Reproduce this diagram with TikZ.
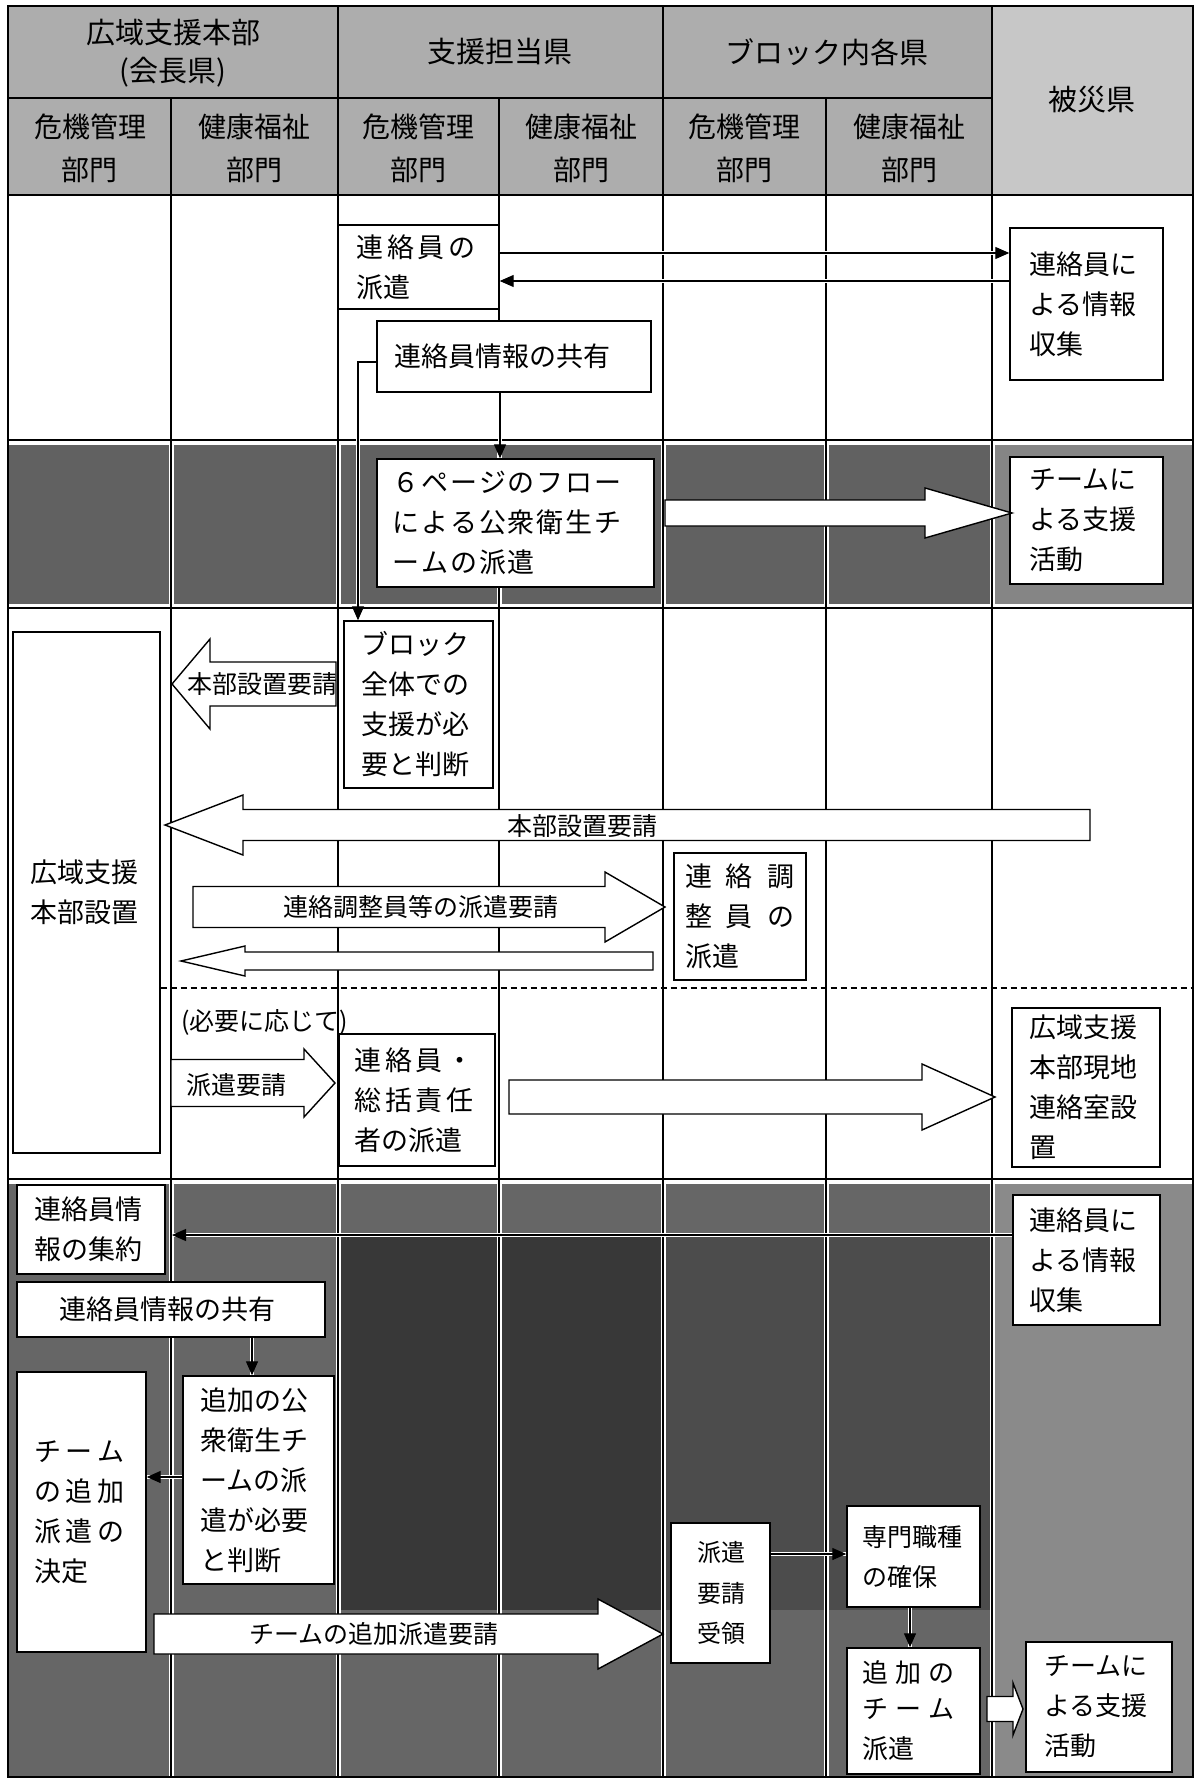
\documentclass[tikz,border=0pt]{standalone}
\usepackage{fontspec}
\setmainfont{Noto Sans CJK JP}
\usetikzlibrary{arrows.meta}
\newcommand{\lsp}[1]{\hspace{#1pt}}
\newcommand{\mybox}[7]{%
  \pgfmathsetmacro{\myBW}{#4-#2}%
  \pgfmathsetmacro{\myBH}{#5-#3}%
  \pgfmathsetmacro{\myTW}{#4-#2-2*#6}%
  \pgfmathsetmacro{\myCX}{(#2+#4)/2}%
  \pgfmathsetmacro{\myCY}{(#3+#5)/2}%
  \node[box, minimum width=\myBW pt, minimum height=\myBH pt, text width=\myTW pt] (#1) at (\myCX,\myCY) {#7};}
\newcommand{\barrow}[6]{\draw[blk] (#1,{#4-#5}) -- (#2,{#4-#5}) -- (#2,{#4-#6}) -- (#3,#4) -- (#2,{#4+#6}) -- (#2,{#4+#5}) -- (#1,{#4+#5}) -- cycle;}
\begin{document}
\begin{tikzpicture}[x=1pt,y=-1pt,
  grid/.style={line width=1.2pt},
  box/.style={draw,line width=1.4pt,fill=white,inner sep=0pt,align=left,font=\fontsize{27}{40}\selectfont},
  blk/.style={draw,line width=1.4pt,fill=white,line join=miter},
  arr/.style={line width=1.2pt,-{Triangle[length=14pt,width=12pt]},preaction={draw=white,line width=4pt,-}},
  lab/.style={font=\fontsize{25}{30}\selectfont,inner sep=0pt},
  hda/.style={font=\fontsize{29}{38}\selectfont,inner sep=0pt,align=center},
  hdb/.style={font=\fontsize{28}{43}\selectfont,inner sep=0pt,align=center}]
\useasboundingbox (0,0) rectangle (1195,1779);
\fill[white] (0,0) rectangle (1195,1779);
% shading
\fill[black!32] (8,6) rectangle (992,195);
\fill[black!22] (992,6) rectangle (1193,195);
\fill[black!62] (8,440) rectangle (992,608);
\fill[black!48] (992,440) rectangle (1193,608);
\fill[black!60] (8,1179) rectangle (992,1777);
\fill[black!78] (338,1237) rectangle (663,1610);
\fill[black!70] (663,1237) rectangle (992,1610);
\fill[black!46] (992,1179) rectangle (1193,1777);
% white halos in dark bands
\foreach \x in {171,338,499,663,826,992} {\draw[white,line width=5pt] (\x,440)--(\x,608) (\x,1179)--(\x,1777);}
\draw[white,line width=5pt] (8,442)--(1193,442) (8,606)--(1193,606) (8,1181)--(1193,1181);
% grid
\draw[grid] (8,6) rectangle (1193,1777);
\draw[grid] (8,98) -- (992,98);
\draw[line width=2.6pt] (8,195) -- (1193,195);
\foreach \x in {171,499,826} {\draw[grid] (\x,98) -- (\x,1777);}
\foreach \x in {338,663,992} {\draw[grid] (\x,6) -- (\x,1777);}
\foreach \y in {440,608,1179} {\draw[grid] (8,\y) -- (1193,\y);}
% header texts
\node[hda] (h1) at (173,53) {広域支援本部\\(会長県)};
\node[hda] (h2) at (500,52) {支援担当県};
\node[hda] (h3) at (827,52) {ブロック内各県};
\node[hda] (h4) at (1092,100) {被災県};
\node[hdb] (s1) at (90,148) {危機管理\\部門};
\node[hdb] (s2) at (254,148) {健康福祉\\部門};
\node[hdb] (s3) at (418,148) {危機管理\\部門};
\node[hdb] (s4) at (581,148) {健康福祉\\部門};
\node[hdb] (s5) at (744,148) {危機管理\\部門};
\node[hdb] (s6) at (909,148) {健康福祉\\部門};
% boxes
\mybox{b1}{338}{225}{499}{309}{18}{連\lsp{4}絡\lsp{4}員\lsp{4}の\\派遣}
\mybox{b2}{1010}{228}{1163}{380}{19}{連絡員に\\よる情報\\収集}
\mybox{b3}{377}{321}{651}{392}{17}{連絡員情報の共有}
\mybox{b4}{377}{459}{654}{587}{15}{６\lsp{2}ペ\lsp{2}ー\lsp{2}ジ\lsp{2}の\lsp{2}フ\lsp{2}ロ\lsp{2}ー\\に\lsp{2}よ\lsp{2}る\lsp{2}公\lsp{2}衆\lsp{2}衛\lsp{2}生\lsp{2}チ\\ー\lsp{2}ム\lsp{2}の\lsp{2}派\lsp{2}遣}
\mybox{b5}{1010}{457}{1163}{584}{19}{チームに\\よる支援\\活動}
\mybox{b6}{344}{621}{493}{788}{17}{ブロック\\全体での\\支援が必\\要と判断}
\mybox{b7}{13}{632}{160}{1153}{17}{広域支援\\本部設置\\[12pt]}
\mybox{b8}{674}{853}{806}{980}{11}{連\lsp{14}絡\lsp{14}調\\整\lsp{14}員\lsp{14}の\\派遣}
\mybox{b9}{1012}{1008}{1160}{1167}{17}{広域支援\\本部現地\\連絡室設\\置}
\mybox{b10}{339}{1034}{495}{1166}{15}{連\lsp{4}絡\lsp{4}員\lsp{4}・\\総\lsp{4}括\lsp{4}責\lsp{4}任\\者の派遣}
\mybox{b11}{17}{1185}{165}{1274}{17}{連絡員情\\報の集約}
\mybox{b12}{17}{1282}{325}{1337}{42}{連絡員情報の共有}
\mybox{b13}{17}{1372}{146}{1652}{17}{チ\lsp{5}ー\lsp{5}ム\\の\lsp{5}追\lsp{5}加\\派\lsp{5}遣\lsp{5}の\\決定}
\mybox{b14}{183}{1376}{334}{1584}{17}{追加の公\\衆衛生チ\\ームの派\\遣が必要\\と判断}
\mybox{b15}{671}{1523}{770}{1663}{26}{\fontsize{24}{41}\selectfont 派遣\\要請\\受領}
\mybox{b16}{847}{1506}{980}{1607}{15}{\fontsize{25}{39}\selectfont 専門職種\\の確保}
\mybox{b17}{847}{1648}{980}{1774}{15}{\fontsize{26}{36}\selectfont 追\lsp{7}加\lsp{7}の\\チ\lsp{7}ー\lsp{7}ム\\派遣}
\mybox{b18}{1013}{1195}{1160}{1325}{16}{連絡員に\\よる情報\\収集}
\mybox{b19}{1026}{1642}{1172}{1772}{18}{\fontsize{26}{40}\selectfont チームに\\よる支援\\活動}
% dashed separator
\draw[line width=1.2pt,dash pattern=on 6pt off 4pt] (b7.east |- 0,988) -- (1193,988);
% block arrows
\barrow{665}{925}{1012}{513}{13}{25}
\barrow{336}{210}{172}{684}{22}{45}
\barrow{1090}{243}{165}{825}{15.5}{30}
\barrow{193}{605}{665}{907}{20.5}{35}
\barrow{653}{245}{181}{961}{9}{15}
\barrow{171}{304}{335}{1083}{23.5}{34}
\barrow{509}{922}{995}{1097}{17}{33}
\barrow{154}{598}{663}{1634}{20}{35}
\barrow{987}{1013}{1023}{1709}{12.5}{26}
% arrow labels
\node[lab] (l1) at (262,684) {本部設置要請};
\node[lab] (l2) at (582,826) {本部設置要請};
\node[lab] (l3) at (421,907) {連絡調整員等の派遣要請};
\node[lab] (l4) at (236,1085) {派遣要請};
\node[lab] (l5) at (374,1634) {チームの追加派遣要請};
\node[lab,anchor=west] (l6) at (181,1022) {(必要に応じて)};
% thin arrows
\coordinate (c1) at (172,1235);
\draw[arr] (b1.east |- 0,253) -- (b2.west |- 0,253);
\draw[arr] (b2.west |- 0,281) -- (b1.east |- 0,281);
\draw[arr] (b3.south -| 500,0) -- (b4.north -| 500,0);
\draw[arr] (b3.west |- 0,362) -| (b6.north -| 358,0);
\draw[arr] (b18.west |- 0,1235) -- (c1);
\draw[arr] (b12.south -| 252,0) -- (b14.north -| 252,0);
\draw[arr] (b14.west |- 0,1477) -- (b13.east |- 0,1477);
\draw[arr] (b15.east |- 0,1554) -- (b16.west |- 0,1554);
\draw[arr] (b16.south -| 910,0) -- (b17.north -| 910,0);
\end{tikzpicture}
\end{document}
